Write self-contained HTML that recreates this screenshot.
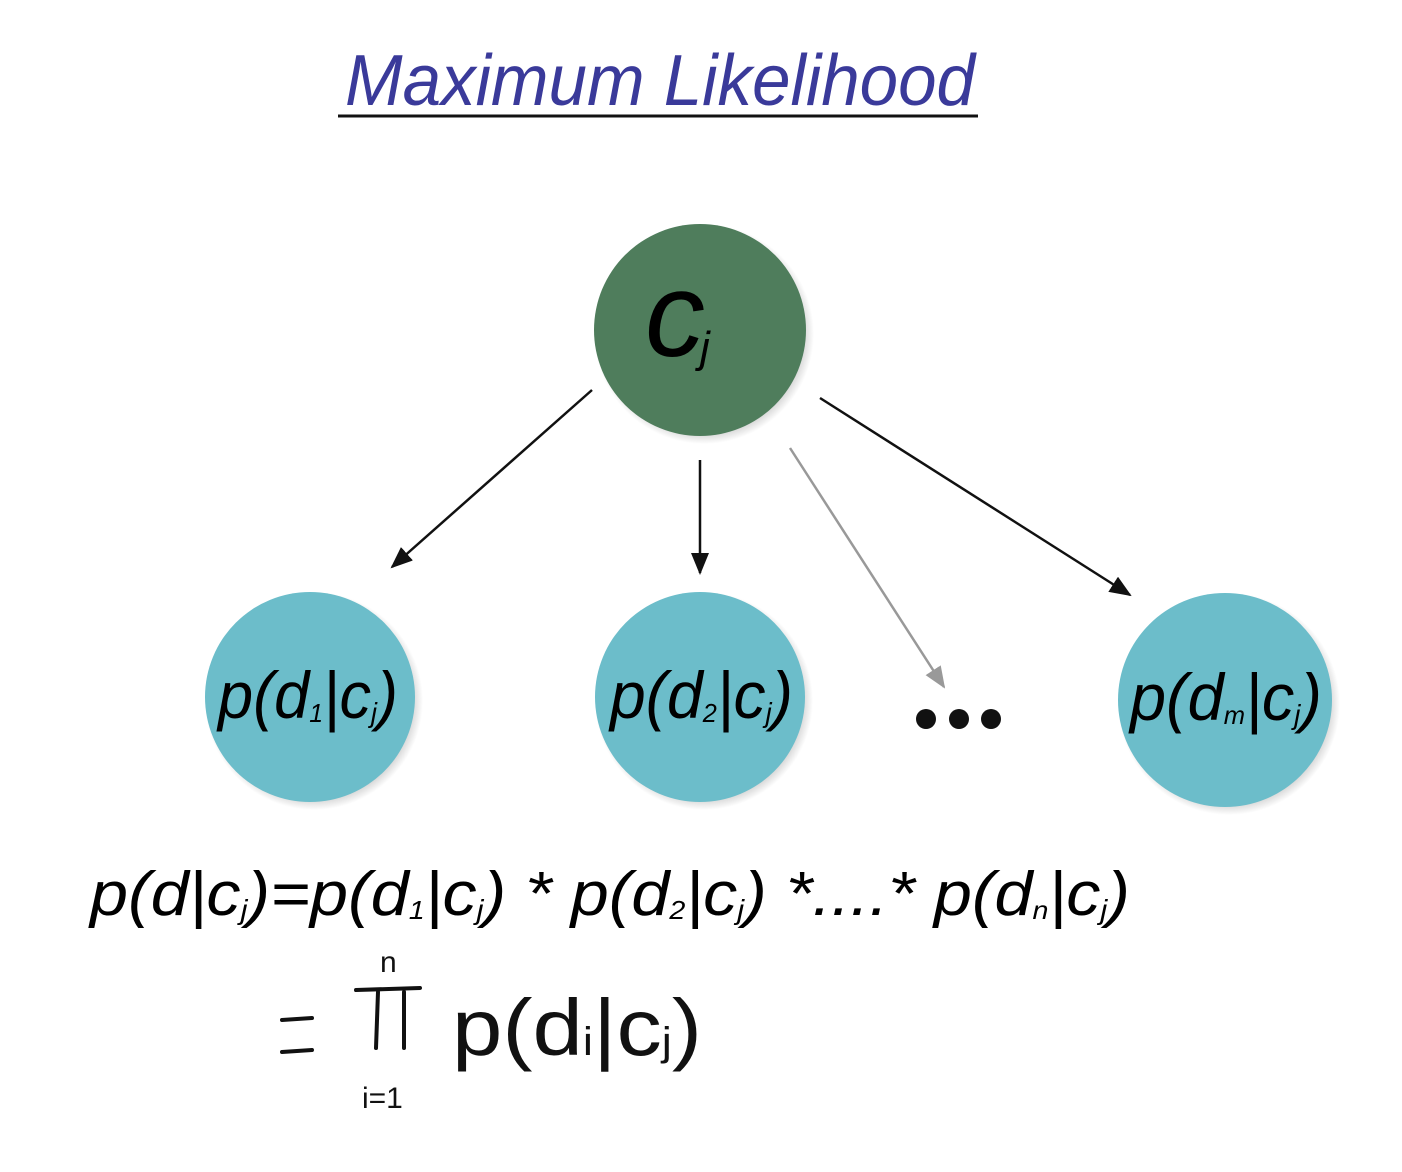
<!DOCTYPE html>
<html><head><meta charset="utf-8"><style>
html,body{margin:0;padding:0;background:#fff;width:1402px;height:1172px;overflow:hidden}
svg{display:block}
text{font-family:"Liberation Sans",sans-serif}
</style></head><body>
<svg width="1402" height="1172" viewBox="0 0 1402 1172">
<defs>
<marker id="ah" markerWidth="22" markerHeight="18" refX="20" refY="9" orient="auto" markerUnits="userSpaceOnUse" viewBox="0 0 22 18"><path d="M0,0 L22,9 L0,18 z" fill="#111"/></marker>
<marker id="ahg" markerWidth="22" markerHeight="18" refX="20" refY="9" orient="auto" markerUnits="userSpaceOnUse" viewBox="0 0 22 18"><path d="M0,0 L22,9 L0,18 z" fill="#999"/></marker>
<radialGradient id="sh" cx="0.5" cy="0.5" r="0.5"><stop offset="0.85" stop-color="#000" stop-opacity="0.25"/><stop offset="1" stop-color="#000" stop-opacity="0"/></radialGradient>
</defs>
<g>
<text x="345" y="105" font-size="72" font-style="italic" fill="#3a3a9a" textLength="630" lengthAdjust="spacingAndGlyphs">Maximum Likelihood</text>
<line x1="338" y1="116" x2="978" y2="116" stroke="#111" stroke-width="3"/>
</g>
<g stroke-width="2.5">
<line x1="592" y1="390" x2="392" y2="567" stroke="#111" marker-end="url(#ah)"/>
<line x1="700" y1="460" x2="700" y2="573" stroke="#111" marker-end="url(#ah)"/>
<line x1="790" y1="448" x2="944" y2="687" stroke="#999" marker-end="url(#ahg)"/>
<line x1="820" y1="398" x2="1130" y2="595" stroke="#111" marker-end="url(#ah)"/>
</g>
<g>
<circle cx="704" cy="334" r="110" fill="url(#sh)"/>
<circle cx="700" cy="330" r="106" fill="#4f7d5c"/>
<text x="645" y="356" font-size="120" font-style="italic" fill="#000">c</text>
<text x="700" y="362" font-size="44" font-style="italic" fill="#000">j</text>
</g>
<g>
<circle cx="314" cy="701" r="109" fill="url(#sh)"/>
<circle cx="310" cy="697" r="105" fill="#6cbdca"/>
<text x="218" y="718" font-size="66" font-style="italic" fill="#000" textLength="180" lengthAdjust="spacingAndGlyphs">p(d<tspan font-size="26" dy="4">1</tspan><tspan dy="-4">|c</tspan><tspan font-size="28" dy="4">j</tspan><tspan dy="-4">)</tspan></text>
</g>
<g>
<circle cx="704" cy="701" r="109" fill="url(#sh)"/>
<circle cx="700" cy="697" r="105" fill="#6cbdca"/>
<text x="610" y="718" font-size="66" font-style="italic" fill="#000" textLength="183" lengthAdjust="spacingAndGlyphs">p(d<tspan font-size="26" dy="4">2</tspan><tspan dy="-4">|c</tspan><tspan font-size="28" dy="4">j</tspan><tspan dy="-4">)</tspan></text>
</g>
<g fill="#111">
<circle cx="926" cy="719" r="10"/><circle cx="959" cy="719" r="10"/><circle cx="991" cy="719" r="10"/>
</g>
<g>
<circle cx="1229" cy="704" r="111" fill="url(#sh)"/>
<circle cx="1225" cy="700" r="107" fill="#6cbdca"/>
<text x="1130" y="720" font-size="66" font-style="italic" fill="#000" textLength="192" lengthAdjust="spacingAndGlyphs">p(d<tspan font-size="26" dy="4">m</tspan><tspan dy="-4">|c</tspan><tspan font-size="28" dy="4">j</tspan><tspan dy="-4">)</tspan></text>
</g>
<g>
<text x="90" y="915" font-size="62" font-style="italic" fill="#000" textLength="1040" lengthAdjust="spacingAndGlyphs">p(d|c<tspan font-size="28" dy="4">j</tspan><tspan dy="-4">)=p(d</tspan><tspan font-size="26" dy="4">1</tspan><tspan dy="-4">|c</tspan><tspan font-size="28" dy="4">j</tspan><tspan dy="-4">) * p(d</tspan><tspan font-size="26" dy="4">2</tspan><tspan dy="-4">|c</tspan><tspan font-size="28" dy="4">j</tspan><tspan dy="-4">) *....* p(d</tspan><tspan font-size="26" dy="4">n</tspan><tspan dy="-4">|c</tspan><tspan font-size="28" dy="4">j</tspan><tspan dy="-4">)</tspan></text>
</g>
<g fill="none" stroke="#111" stroke-width="4" stroke-linecap="round">
<line x1="282" y1="1020" x2="312" y2="1018"/>
<line x1="282" y1="1052" x2="312" y2="1050"/>
<line x1="356" y1="990" x2="420" y2="988"/>
<line x1="378" y1="992" x2="376" y2="1048"/>
<line x1="404" y1="992" x2="404" y2="1048"/>
<text x="380" y="972" font-size="30" fill="#111" stroke="none">n</text>
<text x="362" y="1108" font-size="30" fill="#111" stroke="none">i=1</text>
<text x="452" y="1055" font-size="80" fill="#111" stroke="none" textLength="250" lengthAdjust="spacingAndGlyphs">p(d<tspan font-size="40">i</tspan>|c<tspan font-size="40">j</tspan>)</text>
</g>
</svg>
</body></html>
